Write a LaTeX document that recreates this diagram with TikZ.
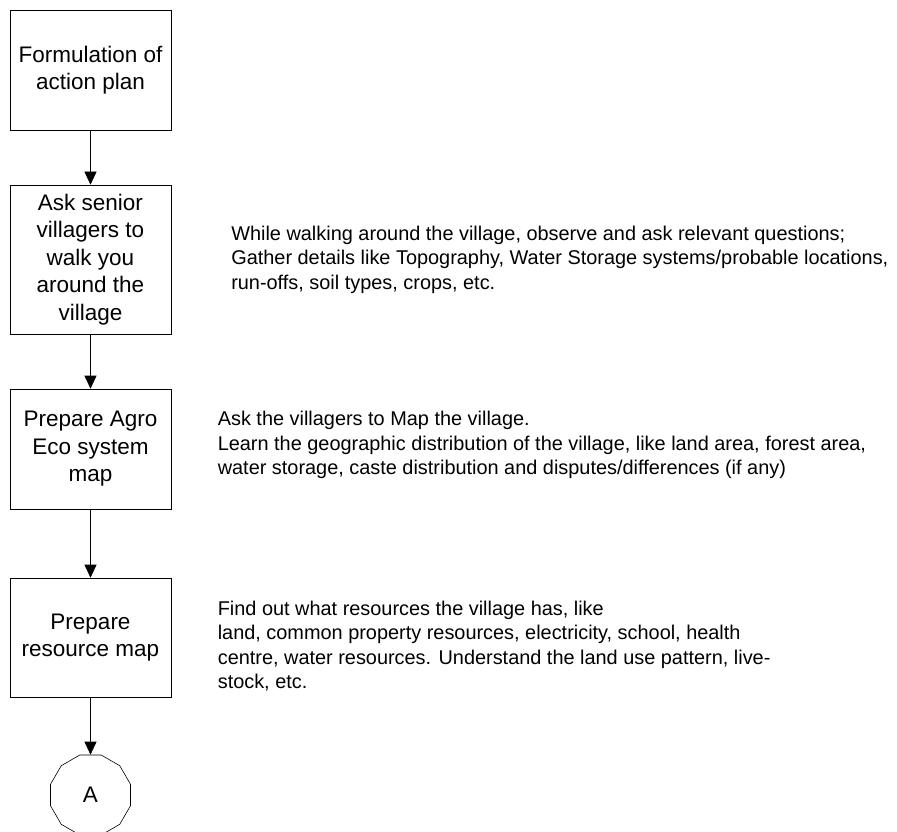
\documentclass[tikz,border=0pt]{standalone}
\usepackage{fontspec}
\setmainfont{Liberation Sans}
\usetikzlibrary{positioning,shapes.geometric,arrows.meta}

\begin{document}
\begin{tikzpicture}[->, >={Triangle[length=13pt,width=12pt]}, node distance=189.5pt, on grid, semithick,
	stage/.style={draw, black, minimum width=161pt, minimum height=120pt, align=center, font=\fontsize{22.5}{27.5}\selectfont},
	note/.style={anchor=west, align=left, inner sep=0pt, font=\fontsize{19.9}{24.5}\selectfont}]
	\path[use as bounding box] (0,0) rectangle (897pt,-832pt);
	
	\node[stage] (plan) at (90.5pt,-70pt) {Formulation of\\action plan};
	\node[stage, minimum height=149pt] (walk) [below= of plan]{Ask senior\\villagers to\\walk you\\around the\\village};
	\node[stage] (eco) [below= of walk]{Prepare Agro\\Eco system\\map};
	\node[stage, minimum height=119pt] (res) [below=188.5pt of eco]{Prepare\\resource map};
	\node[draw, regular polygon, regular polygon sides=12, minimum size=82.8pt, inner sep=0pt, font=\fontsize{22.5}{27.5}\selectfont] (A) [below=157.5pt of res]{A};
	
	\node (walknote) [right=140.5pt of walk, note]{While walking around the village, observe and ask relevant questions;\\Gather details like Topography, Water Storage systems/probable locations,\\run-offs, soil types, crops, etc.};
	\node (econote) [right=127pt of eco, yshift=4pt, note]{Ask the villagers to Map the village.\\Learn the geographic distribution of the village, like land area, forest area,\\water storage, caste distribution and disputes/differences (if any)};
	\node (resnote) [right=127pt of res, yshift=-8.7pt, note]{Find out what resources the village has, like\\land, common property resources, electricity, school, health\\centre, water resources. Understand the land use pattern, live-\\stock, etc.};
	
	\draw (plan) -- (walk);
	\draw (walk) -- (eco);
	\draw (eco) -- (res);
	\draw (res) -- (A);
	
\end{tikzpicture}
\end{document}
